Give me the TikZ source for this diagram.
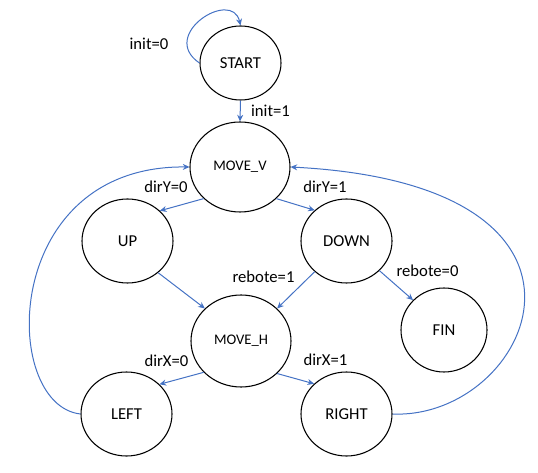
\documentclass[tikz,border=0pt]{standalone}
\usepackage{fontspec}
\setmainfont{Carlito}
\usetikzlibrary{shapes.geometric,arrows.meta}
\definecolor{edgeblue}{HTML}{4472C4}
\begin{document}
\begin{tikzpicture}[x=0.75pt,y=-0.75pt,
  state/.style={ellipse,draw=black,line width=0.8pt,inner sep=0pt,
    font=\fontsize{12.5}{14}\selectfont},
  smallstate/.style={state,font=\fontsize{11}{13}\selectfont},
  trans/.style={draw=edgeblue,line width=0.75pt,-{Stealth[length=5pt,width=4.5pt]}},
  lbl/.style={inner sep=0pt,font=\fontsize{12.5}{14}\selectfont}]
\useasboundingbox (0,0) rectangle (538,473);
\node[state,minimum width=60.75pt,minimum height=55.5pt] (start) at (240.5,63) {START};
\node[smallstate,minimum width=75pt,minimum height=67.5pt] (movev) at (240,167) {MOVE\_V};
\node[state,minimum width=68.25pt,minimum height=63pt] (up) at (127.5,241) {UP};
\node[state,minimum width=68.25pt,minimum height=63pt] (down) at (346.5,241) {DOWN};
\node[smallstate,minimum width=75pt,minimum height=69pt] (moveh) at (241,341) {MOVE\_H};
\node[state,minimum width=64.5pt,minimum height=63pt] (fin) at (444,330) {FIN};
\node[state,minimum width=68.25pt,minimum height=63pt] (left) at (126.5,414) {LEFT};
\node[state,minimum width=68.25pt,minimum height=63pt] (right) at (346.5,414) {RIGHT};

\draw[trans] (start.west) .. controls (158,35) and (232,-12) .. (start.north);
\draw[trans] (start.south) -- (movev.north);
\draw[trans] (movev.221.6) -- (up.43.6);
\draw[trans] (movev.-41.6) -- (down.136.4);
\draw[trans] (up.-46.4) -- (moveh.138.3);
\draw[trans] (down.224.5) -- (moveh.42.5);
\draw[trans] (down.-42.8) -- (fin.136);
\draw[trans] (moveh.220) -- (left.42.7);
\draw[trans] (moveh.-42.4) -- (right.137.4);
\draw[trans] (left.west) .. controls (0,405) and (0,165) .. (movev.west);
\draw[trans] (right.east) .. controls (530,420) and (640,185) .. (movev.east);

\node[lbl] (l0) at (149,44) {init=0};
\node[lbl] (l1) at (270.5,111) {init=1};
\node[lbl] (l2) at (166,187) {dirY=0};
\node[lbl] (l3) at (325,187) {dirY=1};
\node[lbl] (l4) at (263.5,277) {rebote=1};
\node[lbl] (l5) at (427.5,271) {rebote=0};
\node[lbl] (l6) at (166.5,361) {dirX=0};
\node[lbl] (l7) at (325.5,360) {dirX=1};
\end{tikzpicture}
\end{document}
